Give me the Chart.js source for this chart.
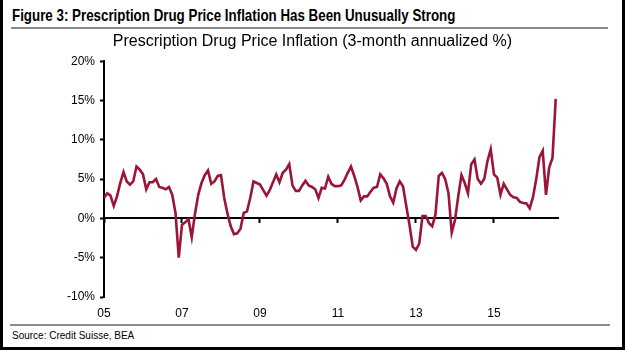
<!DOCTYPE html>
<html>
<head>
<meta charset="utf-8">
<script src="https://cdn.jsdelivr.net/npm/chart.js@4/dist/chart.umd.min.js"></script>
<style>
    body {
        margin: 0;
        background: #fff;
    }
    .frame {
        position: relative;
        width: 625px;
        height: 350px;
        box-sizing: border-box;
        border-left: 3px solid #000;
        border-right: 3px solid #000;
        border-bottom: 3px solid #000;
        overflow: hidden;
        font-family: "Liberation Sans", Arial, sans-serif;
    }
    /* narrow bold title, squeezed since no narrow face is installed */
    .fig-title {
        position: absolute;
        left: 9px;
        top: 6px;
        font-weight: bold;
        font-size: 17px;
        color: #000;
        white-space: nowrap;
        transform: scaleX(0.785);
        transform-origin: left top;
    }
    .rule {
        position: absolute;
        height: 2px;
        background: #8a8a8a;
    }
    .source {
        position: absolute;
        left: 9px;
        top: 330px;
        font-size: 10px;
        color: #000;
    }
    .chart {
        position: absolute;
        left: -3px;
        top: 30px;
        width: 625px;
        height: 294px;
    }
</style>
</head>
<body>
<div class="frame">
    <div class="fig-title">Figure 3: Prescription Drug Price Inflation Has Been Unusually Strong</div>
    <div class="rule" style="left: 8px; top: 27px; width: 597px;"></div>
    <div class="chart"><canvas id="inflation"></canvas></div>
    <div class="rule" style="left: 7px; top: 324px; width: 600px;"></div>
    <div class="source">Source: Credit Suisse, BEA</div>
</div>

<script>
// months since Jan 2005, one value per month (Jan 2005 - Aug 2016)
const start_year = 2005
const inflation = [
    2.6, 3.2, 2.9, 1.6, 2.8, 4.5, 5.9, 4.7, 4.3, 4.7,
    6.6, 6.2, 5.6, 3.7, 4.6, 4.6, 5.0, 4.0, 3.9, 3.7,
    4.0, 3.0, 0.7, -5.0, -0.8, -0.5, -0.1, -2.4, 0.6, 3.0,
    4.5, 5.5, 6.1, 4.4, 4.7, 5.4, 5.5, 2.6, 0.6, -1.0,
    -2.0, -1.9, -1.3, 0.7, 0.9, 2.6, 4.7, 4.5, 4.3, 3.6,
    2.9, 3.6, 4.6, 5.6, 4.6, 5.8, 6.2, 6.9, 4.2, 3.5,
    3.5, 4.2, 4.8, 4.2, 4.0, 3.7, 2.6, 3.9, 3.8, 5.3,
    4.4, 4.1, 4.1, 4.2, 4.9, 5.8, 6.6, 5.4, 4.0, 2.3,
    2.8, 2.8, 3.4, 3.9, 4.0, 5.6, 5.1, 4.4, 2.8, 2.0,
    3.8, 4.7, 4.1, 1.6, -0.8, -3.6, -4.0, -3.2, 0.3, 0.3,
    -0.6, -1.0, 0.5, 5.4, 5.8, 5.0, 3.2, -1.8, -0.2, 2.8,
    5.5, 4.5, 3.2, 6.9, 7.5, 5.0, 4.4, 5.0, 7.3, 8.8,
    5.6, 5.2, 3.0, 4.4, 3.7, 3.0, 2.7, 2.6, 2.1, 1.95,
    1.9, 1.3, 2.7, 5.0, 7.8, 8.6, 3.0, 6.5, 7.7, 15.2
]

// x ticks : month index -> label
const tick_months = [0, 24, 48, 72, 96, 120]
const tick_labels = ['05', '07', '09', '11', '13', '15']

// y ticks
const y_min = -10
const y_max = 20
const y_step = 5

const month_names = ['Jan', 'Feb', 'Mar', 'Apr', 'May', 'Jun', 'Jul', 'Aug', 'Sep', 'Oct', 'Nov', 'Dec']
month_labels = []
for (i in inflation) {
    month_labels.push(month_names[i % 12] + ' ' + (start_year + Math.floor(i / 12)))
}

const line_color = '#9a1536'
const font_family = '"Liberation Sans", Arial, sans-serif'

function setMonthTicks(axis) {
    axis.ticks = tick_months.map((m) => ({ value: m }))
}

const ctx = document.getElementById('inflation')

new Chart(ctx, {
    type: 'line',
    data: {
        datasets: [{
            data: inflation.map((v, i) => ({ x: i, y: v })),
            borderColor: line_color,
            borderWidth: 2.6,
            pointRadius: 0,
            tension: 0,
            fill: false
        }]
    },
    options: {
        animation: false,
        responsive: true,
        maintainAspectRatio: false,
        devicePixelRatio: 1,
        layout: {
            padding: 0
        },
        plugins: {
            legend: { display: false },
            tooltip: {
                callbacks: {
                    title: (items) => month_labels[items[0].dataIndex],
                    label: (item) => item.parsed.y + '%'
                }
            },
            title: {
                display: true,
                text: 'Prescription Drug Price Inflation (3-month annualized %)',
                color: '#000',
                font: { family: font_family, size: 16, weight: 'normal' },
                padding: { top: 2, bottom: 10 }
            }
        },
        scales: {
            x: {
                type: 'linear',
                position: 'bottom',
                min: 0,
                max: 139.7,
                afterBuildTicks: setMonthTicks,
                afterFit: (scale) => { scale.height = 27 },
                border: { display: false },
                grid: { display: false, drawTicks: false },
                ticks: {
                    color: '#000',
                    padding: 9,
                    maxRotation: 0,
                    font: { family: font_family, size: 12 },
                    callback: (value) => tick_labels[tick_months.indexOf(value)]
                }
            },
            // zero line with the year tick marks hanging below it
            x_zero: {
                type: 'linear',
                position: { y: 0 },
                min: 0,
                max: 139.7,
                afterBuildTicks: setMonthTicks,
                border: { display: true, color: '#000', width: 2 },
                grid: {
                    drawOnChartArea: false,
                    drawTicks: true,
                    tickLength: 4,
                    tickColor: '#000',
                    tickWidth: 2
                },
                ticks: { display: false }
            },
            y: {
                min: y_min,
                max: y_max,
                afterFit: (scale) => { scale.width = 104 },
                border: { display: true, color: '#000', width: 2 },
                grid: {
                    drawOnChartArea: false,
                    drawTicks: true,
                    tickLength: 4,
                    tickColor: '#000',
                    tickWidth: 2
                },
                ticks: {
                    stepSize: y_step,
                    color: '#000',
                    padding: 5,
                    font: { family: font_family, size: 12 },
                    callback: (value) => value + '%'
                }
            },
            // empty right axis, only keeps the white space right of the plot
            y_space: {
                position: 'right',
                afterFit: (scale) => { scale.width = 67 },
                border: { display: false },
                grid: { display: false },
                ticks: { display: false }
            }
        }
    }
})
</script>
</body>
</html>
